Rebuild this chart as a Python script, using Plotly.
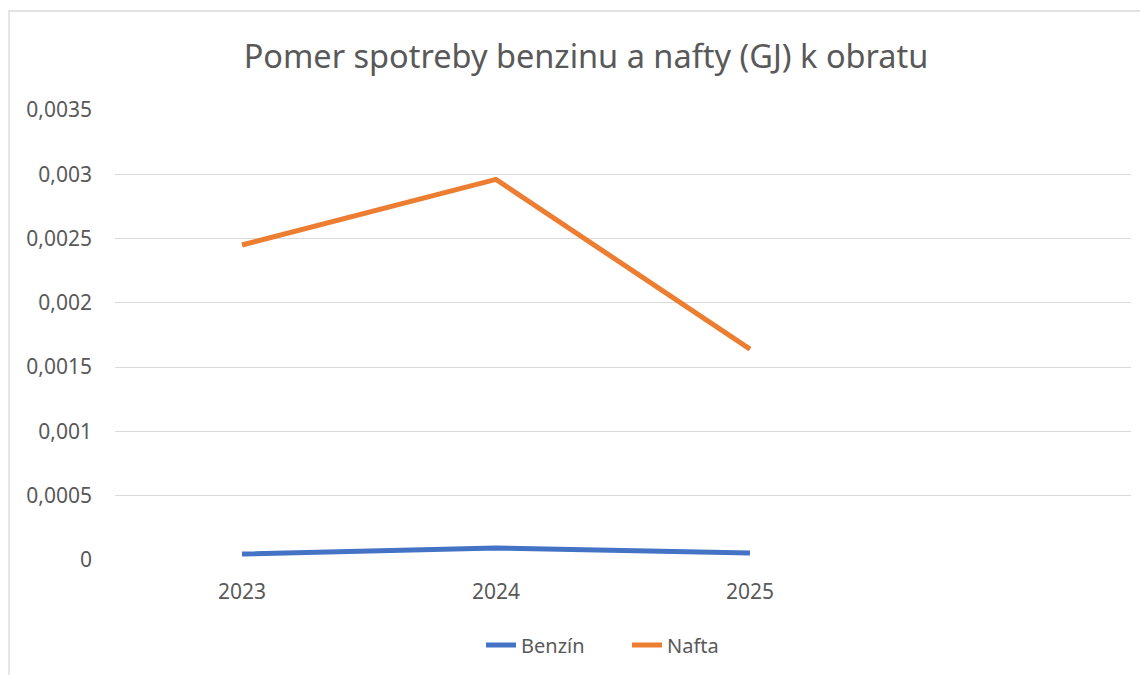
import plotly.graph_objects as go

years = ["2023", "2024", "2025", ""]
benzin = [0.000047, 0.000093, 0.000054]
nafta = [0.00245, 0.00296, 0.00164]
y_ticks = [0, 0.0005, 0.001, 0.0015, 0.002, 0.0025, 0.003, 0.0035]
y_ticktext = ["0", "0,0005", "0,001", "0,0015", "0,002", "0,0025", "0,003", "0,0035"]

W, H = 1148, 675
OFF = 8  # page body margin offset
L, R, T, B = 115 - OFF, 1131 - OFF, 110 - OFF, 560 - OFF
FONT = "Noto Sans"
GREY = "#595959"

xpos = list(range(len(years)))

fig = go.Figure()
fig.add_trace(go.Scatter(x=xpos[:len(benzin)], y=benzin, mode="lines", name="Benzín",
                         line=dict(color="#4472C4", width=5)))
fig.add_trace(go.Scatter(x=xpos[:len(nafta)], y=nafta, mode="lines", name="Nafta",
                         line=dict(color="#ED7D31", width=5)))

pw = R - L
ph = B - T
fig.update_layout(
    width=W, height=H,
    margin=dict(l=L, r=W - R, t=T, b=H - B, autoexpand=False),
    paper_bgcolor="white", plot_bgcolor="white",
    font=dict(family=FONT, color=GREY, size=20),
    title=dict(text="Pomer spotreby benzinu a nafty (GJ) k obratu",
               x=(586 - OFF) / W, xanchor="center", y=1 - (57 - OFF) / H, yanchor="middle",
               font=dict(size=32.5, color=GREY, family=FONT)),
    xaxis=dict(range=[-0.5, len(years) - 0.5], tickvals=xpos, ticktext=years,
               showgrid=False, zeroline=False, showline=False, ticks="",
               ticklabelstandoff=17,
               tickfont=dict(size=21, color=GREY), fixedrange=True),
    yaxis=dict(range=[0, 0.0035], tickvals=y_ticks, ticktext=y_ticktext,
               showgrid=True, gridcolor="#d9d9d9", gridwidth=1.3,
               zeroline=False, showline=False, ticks="",
               ticklabelstandoff=22,
               tickfont=dict(size=21, color=GREY), fixedrange=True),
    legend=dict(orientation="h", x=(627 - OFF - L) / pw, xanchor="center",
                y=(B - (645 - OFF)) / ph, yanchor="middle",
                entrywidth=101, entrywidthmode="pixels",
                font=dict(size=20, color=GREY), bgcolor="rgba(0,0,0,0)"),
    showlegend=True,
)
fig.add_shape(type="rect", xref="paper", yref="paper",
              x0=(9 - OFF - L) / pw, x1=(W + 20 - L) / pw,
              y0=(B - (H + 20)) / ph, y1=(B - (11 - OFF)) / ph,
              line=dict(color="#d9d9d9", width=1.3), fillcolor="rgba(0,0,0,0)",
              layer="below")

fig.write_html("out.html")
